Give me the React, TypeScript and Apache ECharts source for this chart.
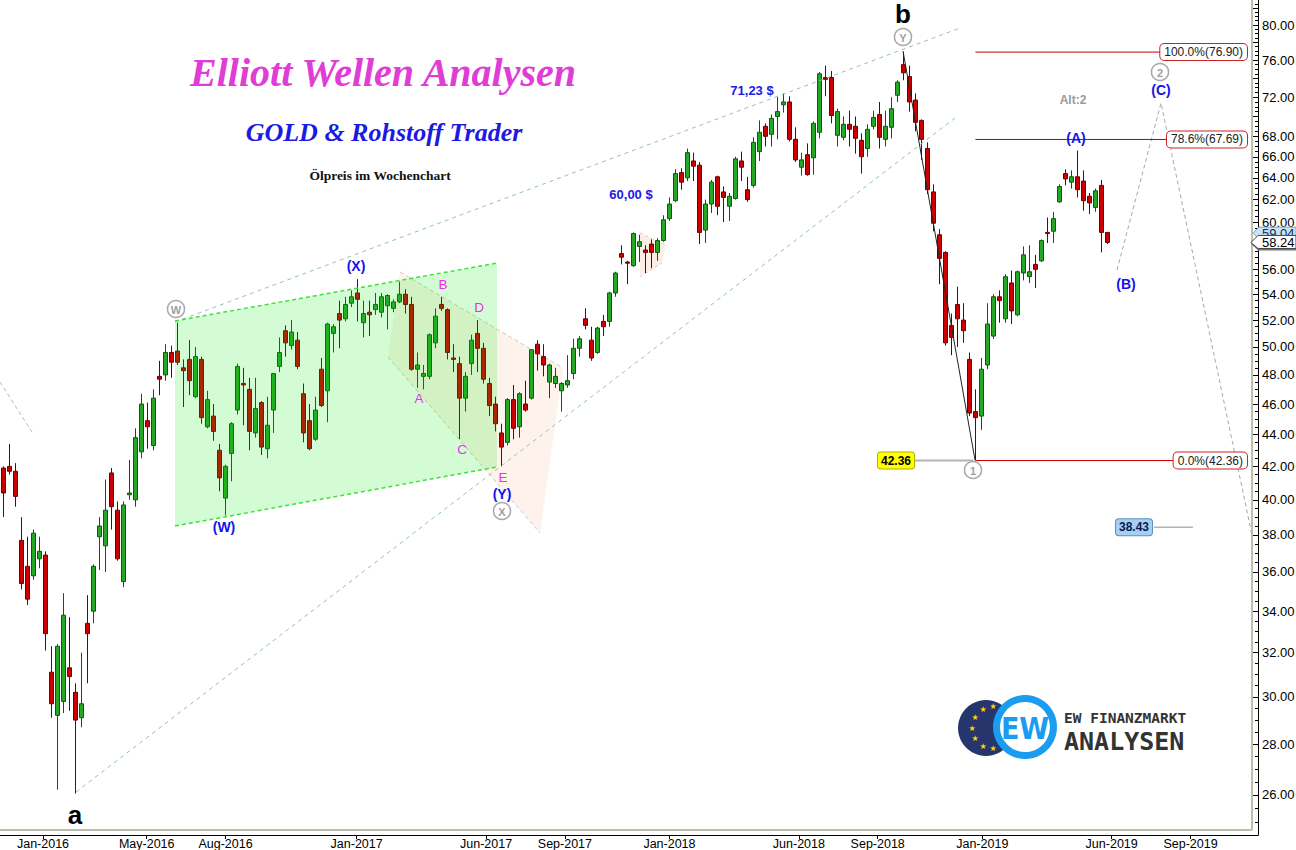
import React, { useEffect, useRef } from "react";
import * as echarts from "echarts";

// Weekly candles, first week starting 2015-11-16. Each entry: [open, close, low, high]
const firstWeek = Date.UTC(2015, 10, 16);
const WEEK_MS = 7 * 86400000;

const candles2015 = [
  [41.9, 40.4, 39.0, 42.0], [42.0, 41.7, 41.5, 43.4], [41.7, 40.2, 39.6, 42.2], [37.7, 35.4, 35.1, 39.0],
  [36.3, 34.6, 34.3, 37.9], [35.8, 38.1, 35.6, 38.3], [36.7, 37.1, 36.2, 37.9],
];
const candles2016 = [
  [36.9, 32.9, 32.1, 37.1], [31.1, 29.7, 29.1, 32.3], [29.2, 32.3, 26.2, 32.4], [29.8, 33.8, 29.3, 34.9],
  [31.3, 30.9, 29.4, 33.7], [30.2, 29.0, 26.05, 30.6], [29.1, 29.7, 28.7, 32.0], [33.4, 32.9, 30.6, 34.8],
  [34.0, 36.3, 33.4, 36.4], [37.9, 38.5, 36.1, 39.0], [37.4, 39.4, 36.0, 41.2], [41.6, 39.6, 38.3, 41.9],
  [39.4, 36.7, 36.6, 39.9], [35.5, 39.7, 35.2, 39.9], [40.3, 40.4, 40.0, 42.4], [40.0, 43.8, 39.6, 44.4],
  [42.9, 46.0, 42.5, 46.7], [44.9, 44.5, 43.1, 46.1], [43.3, 46.4, 43.0, 47.0], [47.9, 47.7, 46.6, 49.0],
  [48.0, 49.6, 47.6, 50.2], [49.6, 48.9, 47.8, 50.1], [49.7, 48.9, 48.7, 51.8], [48.5, 48.3, 45.8, 49.1],
  [49.1, 47.6, 46.6, 50.5], [46.5, 49.3, 46.4, 50.0], [49.1, 45.1, 44.7, 49.3], [44.5, 46.3, 44.4, 46.9],
  [45.2, 44.2, 43.6, 46.0], [43.0, 41.3, 40.5, 43.4], [40.1, 42.0, 39.1, 42.1], [42.8, 44.7, 41.1, 44.8],
  [45.6, 48.6, 45.3, 48.8], [47.4, 47.3, 44.6, 48.5], [47.0, 44.2, 43.0, 47.8], [44.1, 45.7, 43.8, 47.8],
  [46.1, 43.2, 42.7, 46.2], [43.1, 44.6, 42.5, 46.5], [45.6, 48.1, 44.1, 48.1], [48.6, 49.6, 48.2, 50.7],
  [51.2, 50.3, 49.3, 51.6], [50.1, 51.1, 49.8, 52.0], [50.5, 48.6, 48.4, 51.1], [46.7, 44.1, 43.5, 47.4],
  [44.9, 43.1, 43.0, 46.0], [43.7, 45.6, 43.6, 46.5], [48.4, 45.9, 45.8, 49.2], [46.9, 51.7, 44.8, 51.8],
  [51.0, 51.5, 49.6, 51.7], [52.5, 52.0, 49.9, 53.5], [52.1, 53.2, 51.9, 53.8], [53.3, 53.8, 53.0, 54.3],
];
const candles2017 = [
  [54.1, 53.6, 51.9, 55.2], [51.8, 52.5, 50.7, 53.5], [52.6, 52.4, 50.8, 53.5], [52.8, 53.2, 52.4, 54.1],
  [52.6, 53.8, 52.2, 54.1], [53.1, 53.9, 51.3, 54.0], [52.9, 53.4, 52.6, 53.6], [53.4, 54.0, 53.3, 55.0],
  [54.0, 53.2, 52.5, 54.4], [53.2, 48.4, 48.3, 53.8], [48.4, 48.7, 47.1, 49.6], [47.9, 48.1, 47.0, 48.7],
  [47.9, 50.9, 47.7, 51.0], [50.3, 52.3, 49.9, 52.9], [53.2, 52.9, 52.7, 53.8], [52.8, 49.6, 49.1, 52.9],
  [49.2, 49.1, 48.2, 50.2], [48.8, 46.4, 43.7, 49.3], [46.4, 47.9, 45.5, 48.2], [48.8, 50.5, 48.0, 50.9],
  [51.0, 49.9, 48.2, 52.0], [49.9, 47.7, 47.4, 50.3], [47.4, 45.9, 45.2, 47.8], [46.0, 44.7, 44.2, 46.5],
  [44.1, 43.2, 42.0, 44.7], [43.5, 46.3, 43.3, 46.4], [46.3, 44.4, 43.7, 47.3], [44.5, 46.7, 43.8, 46.8],
  [46.0, 45.6, 45.5, 47.6], [46.4, 49.8, 46.3, 49.8], [50.2, 49.5, 48.3, 50.5], [49.3, 48.7, 47.9, 50.2],
  [47.5, 48.7, 46.4, 48.8], [47.4, 47.9, 47.1, 48.5], [46.9, 47.4, 45.5, 47.5], [47.3, 47.6, 47.1, 49.4],
  [48.1, 49.9, 47.7, 50.6], [49.9, 50.6, 49.3, 50.8], [52.1, 51.6, 51.3, 52.9], [50.5, 49.2, 49.0, 51.5],
  [49.6, 51.4, 49.5, 51.5], [51.9, 51.5, 50.8, 52.4], [51.9, 54.1, 51.5, 54.2], [54.1, 55.7, 53.8, 55.8],
  [57.3, 57.0, 56.4, 58.0], [56.6, 56.5, 54.8, 56.7], [56.3, 59.0, 56.2, 59.1], [57.9, 58.3, 56.6, 58.9],
  [57.6, 57.4, 55.7, 58.0], [58.1, 57.4, 56.1, 58.5], [57.4, 58.4, 56.7, 58.6], [58.4, 60.2, 58.3, 60.6],
];
const candles2018 = [
  [60.3, 61.6, 60.1, 62.2], [61.9, 64.4, 61.8, 64.8], [64.5, 63.6, 62.9, 64.9], [64.0, 66.4, 63.7, 66.8],
  [65.6, 65.1, 63.7, 66.4], [65.2, 59.1, 58.1, 65.5], [59.3, 61.6, 58.2, 62.0], [61.6, 63.6, 60.8, 63.8],
  [64.1, 61.4, 60.6, 64.2], [62.7, 62.2, 60.0, 63.2], [61.4, 62.3, 60.1, 62.6], [62.1, 65.8, 62.0, 66.0],
  [65.6, 65.0, 63.7, 66.5], [62.9, 62.0, 61.8, 64.1], [63.3, 67.4, 63.1, 67.9], [66.5, 68.4, 65.6, 69.6],
  [69.0, 68.0, 67.0, 69.3], [68.2, 69.8, 67.0, 70.2], [70.0, 70.5, 67.7, 72.0], [71.2, 71.5, 70.4, 72.4],
  [71.5, 67.7, 67.5, 72.1], [67.7, 65.7, 65.5, 68.9], [65.0, 65.7, 64.2, 66.4], [66.2, 64.3, 64.2, 67.3],
  [65.9, 69.3, 64.3, 69.5], [68.4, 74.5, 67.8, 74.7], [74.1, 73.9, 72.1, 75.4], [74.1, 70.1, 69.3, 74.8],
  [68.1, 70.5, 67.0, 70.8], [67.9, 69.2, 67.6, 70.0], [69.2, 68.7, 67.0, 70.6], [69.0, 67.8, 66.3, 70.0],
  [67.6, 66.0, 64.4, 68.3], [66.8, 68.7, 66.0, 69.2], [69.0, 69.9, 68.7, 70.6], [70.2, 67.9, 66.8, 71.5],
  [67.7, 69.0, 67.0, 70.6], [68.9, 70.8, 67.8, 72.0], [72.2, 73.6, 71.5, 73.8], [75.5, 74.6, 73.8, 76.9],
  [74.2, 71.5, 70.5, 75.4], [71.7, 69.4, 68.5, 72.4], [69.6, 67.7, 65.7, 69.7], [66.8, 62.9, 62.5, 67.4],
  [62.7, 59.9, 59.2, 63.4], [58.9, 56.9, 54.8, 59.4], [57.4, 50.3, 50.1, 57.5], [51.6, 50.7, 49.4, 52.5],
  [53.2, 52.1, 50.0, 54.6], [52.0, 51.2, 50.3, 53.3], [49.1, 45.4, 45.2, 49.6], [45.5, 45.1, 42.36, 47.0],
];
const candles2019 = [
  [45.2, 48.4, 44.3, 49.2], [48.7, 51.7, 48.4, 53.3], [50.8, 53.8, 50.6, 54.0], [53.8, 53.5, 51.8, 54.3],
  [52.1, 55.4, 51.8, 55.6], [54.9, 52.7, 51.7, 55.9], [52.4, 55.8, 52.3, 55.9], [55.7, 57.2, 55.1, 57.9],
  [55.4, 55.8, 54.9, 58.0], [56.4, 56.0, 54.5, 57.2], [56.7, 58.4, 56.6, 58.5], [59.1, 59.0, 58.2, 60.4],
  [59.2, 60.3, 58.2, 60.9], [61.8, 63.2, 61.7, 63.4], [64.4, 63.9, 63.3, 64.8], [63.6, 64.1, 63.0, 64.7],
  [64.1, 62.9, 62.2, 66.6], [63.7, 61.9, 61.0, 64.7], [62.3, 61.7, 60.7, 62.6], [61.3, 62.8, 60.9, 63.0],
  [63.3, 59.1, 57.4, 63.8], [59.1, 58.24, 58.1, 59.1],
];

const yLabelValues = [26, 28, 30, 32, 34, 36, 38, 40, 42, 44, 46, 48, 50, 52, 54, 56, 60, 62, 64, 66, 68, 72, 76, 80];
const xLabelMonths: [number, number][] = [
  [2016, 0], [2016, 4], [2016, 7], [2017, 0], [2017, 5], [2017, 8],
  [2018, 0], [2018, 5], [2018, 8], [2019, 0], [2019, 5], [2019, 8],
];
const monthNames = ["Jan", "Feb", "Mar", "Apr", "May", "Jun", "Jul", "Aug", "Sep", "Oct", "Nov", "Dec"];

const fibLevels = [
  { price: 76.9, label: "100.0%(76.90)", color: "#cc0000" },
  { price: 67.69, label: "78.6%(67.69)", color: "#9a1010" },
  { price: 42.36, label: "0.0%(42.36)", color: "#cc0000" },
];
const fibStartDate = Date.UTC(2018, 11, 24);
const lowLabel = 42.36;
const targetLabel = 38.43;
const lastPrice = 58.24;
const prevPrice = 59.04;

export default function App() {
  const ref = useRef<HTMLDivElement>(null);

  useEffect(() => {
    document.body.style.margin = "0";
    const chart = echarts.init(ref.current!, null, { renderer: "svg" });
    const ln = Math.log;
    const DAY = 86400000;
    const pxPerDay = 0.857;
    const jan2016 = Date.UTC(2016, 0, 1);
    const xMin = jan2016 - (43 / pxPerDay) * DAY;
    const xMax = xMin + (1258 / pxPerDay) * DAY;
    const yTop = ln(80) + 25 / 685;
    const yBottom = ln(80) - 810 / 685;

    const all = [...candles2015, ...candles2016, ...candles2017, ...candles2018, ...candles2019];
    const data = all.map((c, i) => [firstWeek + i * WEEK_MS, ln(c[0]), ln(c[1]), ln(c[2]), ln(c[3])]);

    const xTicks = xLabelMonths.map(([y, m]) => Date.UTC(y, m, 1));
    const majorTicks: number[] = [];
    for (let v = 24; v <= 82; v += 2) majorTicks.push(ln(v));
    const minorTicks: number[] = [];
    for (let v = 24; v <= 83; v += 0.5) minorTicks.push(ln(v));

    const option: any = {
      animation: false,
      backgroundColor: "#ffffff",
      grid: { left: 0, right: 38, top: 0, bottom: 15, containLabel: false, outerBoundsMode: "none" },
      xAxis: {
        type: "value",
        min: xMin,
        max: xMax,
        axisLine: { show: true, lineStyle: { color: "#000", width: 1 } },
        axisTick: { show: true, customValues: xTicks, length: 4, lineStyle: { color: "#000" } },
        axisLabel: {
          show: true,
          customValues: xTicks,
          color: "#000",
          fontSize: 12.5,
          fontFamily: "Liberation Sans, Arial, sans-serif",
          margin: 2,
          formatter: (v: number) => {
            const d = new Date(v);
            return monthNames[d.getUTCMonth()] + "-" + d.getUTCFullYear();
          },
        },
        splitLine: { show: false },
      },
      yAxis: [
        {
          type: "value",
          position: "right",
          min: yBottom,
          max: yTop,
          axisLine: { show: true, lineStyle: { color: "#000", width: 1 } },
          axisTick: { show: true, inside: true, length: 5, customValues: majorTicks, lineStyle: { color: "#000" } },
          axisLabel: {
            show: true,
            customValues: yLabelValues.map((v) => ln(v)),
            color: "#000",
            fontSize: 13,
            fontFamily: "Liberation Sans, Arial, sans-serif",
            margin: 4,
            formatter: (v: number) => Math.round(Math.exp(v)).toFixed(2),
          },
          splitLine: { show: false },
        },
        {
          type: "value",
          position: "right",
          min: yBottom,
          max: yTop,
          axisLine: { show: false },
          axisTick: { show: true, inside: true, length: 3, customValues: minorTicks, lineStyle: { color: "#000" } },
          axisLabel: { show: false },
          splitLine: { show: false },
        },
      ],
      series: [
        {
          type: "candlestick",
          data,
          encode: { x: 0, y: [1, 2, 3, 4] },
          barWidth: 4.6,
          z: 5,
          itemStyle: {
            color: "#25a825",
            color0: "#cc0000",
            borderColor: "#0b5a0b",
            borderColor0: "#6e0000",
            borderWidth: 1,
          },
        },
      ],
    };
    chart.setOption(option);

    const py = (p: number) => chart.convertToPixel({ yAxisIndex: 0 }, ln(p)) as number;
    const px = (t: number) => chart.convertToPixel({ xAxisIndex: 0 }, t) as number;

    const g: any[] = [];
    const line = (x1: number, y1: number, x2: number, y2: number, stroke: string, w = 1, dash?: number[], z = 50) =>
      g.push({ type: "line", z, silent: true, shape: { x1, y1, x2, y2 }, style: { stroke, lineWidth: w, lineDash: dash } });
    const text = (x: number, y: number, t: string, font: string, fill: string, extra: any = {}, z = 120) =>
      g.push({
        type: "text",
        z,
        silent: true,
        x,
        y,
        style: { text: t, font, fill, align: "center", verticalAlign: "middle", ...extra },
      });
    const circled = (x: number, y: number, t: string) => {
      g.push({ type: "circle", z: 110, silent: true, shape: { cx: x, cy: y, r: 8.5 }, style: { fill: "#fff", stroke: "#a8a8a8", lineWidth: 1.5 } });
      text(x, y + 0.5, t, "bold 11px Liberation Sans, Arial", "#a0a0a0");
    };

    // frame
    line(1252, 0, 1252, 830, "#bdbdb0", 2, undefined, 40);
    line(0, 830, 1252, 830, "#bdbdb0", 2, undefined, 40);

    // peach triangle areas (below candles)
    g.push({ type: "polygon", z: 1, silent: true, shape: { points: [[400, 272], [563, 368], [540, 533], [388, 357]] }, style: { fill: "rgba(248,200,170,0.22)" } });
    line(400, 272, 563, 368, "#c9c9c9", 1, [4, 3], 3);
    line(388, 357, 540, 533, "#c9c9c9", 1, [4, 3], 3);
    g.push({ type: "polygon", z: 1, silent: true, shape: { points: [[640, 233], [666, 245], [662, 263], [640, 277]] }, style: { fill: "rgba(248,200,170,0.3)" } });
    line(640, 233, 666, 245, "#d0d0d0", 1, [3, 3], 3);
    line(640, 277, 662, 263, "#d0d0d0", 1, [3, 3], 3);

    // green channel (over candles)
    g.push({ type: "polygon", z: 100, silent: true, shape: { points: [[175, 321], [497, 263], [497, 467], [175, 526]] }, style: { fill: "rgba(0,235,0,0.17)" } });
    line(175, 321, 497, 263, "#3ee03e", 1.5, [4, 3], 101);
    line(175, 526, 497, 467, "#3ee03e", 1.5, [4, 3], 101);

    // trend channel lines
    line(175, 322, 960, 28, "#92c4ac", 1, [4, 4], 50);
    line(76, 792, 955, 118, "#92c4ac", 1, [4, 4], 50);
    line(0, 382, 32, 432, "#b8b8b8", 1, [4, 3], 50);
    line(903, 51, 975, 460, "#222", 1, undefined, 60);
    g.push({ type: "polyline", z: 50, silent: true, shape: { points: [[1117, 270], [1161, 103], [1252, 535]] }, style: { stroke: "#a8a8a8", lineWidth: 1, lineDash: [4, 3], fill: null } });

    // fib levels
    const xFib = px(fibStartDate);
    fibLevels.forEach((f) => {
      const y = py(f.price);
      line(xFib, y, 1240, y, f.color, 1, undefined, 60);
      text(1247, y, f.label, "12px Liberation Sans, Arial", "#222", {
        align: "right",
        backgroundColor: "#fff",
        borderColor: "#cc2222",
        borderWidth: 1,
        borderRadius: 4,
        padding: [2, 4, 2, 4],
      }, 130);
    });

    // 42.36 and 38.43 labels
    const yLow = py(lowLabel);
    line(915, yLow, xFib - 2, yLow, "#b4b4b4", 2, undefined, 55);
    text(896, yLow, lowLabel.toFixed(2), "bold 12px Liberation Sans, Arial", "#000", {
      backgroundColor: "#ffff00", borderColor: "#b0b000", borderWidth: 1, borderRadius: 3, padding: [2, 3, 2, 3],
    });
    const yT = py(targetLabel);
    line(1154, yT, 1193, yT, "#b4b4b4", 1.5, undefined, 55);
    text(1134, yT, targetLabel.toFixed(2), "bold 12px Liberation Sans, Arial", "#0a1a50", {
      backgroundColor: "#a6cff2", borderColor: "#5b8fc0", borderWidth: 1, borderRadius: 3, padding: [2, 3, 2, 3],
    });

    // price tags
    const yPrev = py(prevPrice);
    g.push({ type: "polygon", z: 140, silent: true, shape: { points: [[1253, yPrev], [1259, yPrev - 6], [1296, yPrev - 6], [1296, yPrev + 6], [1259, yPrev + 6]] }, style: { fill: "#c6e4f6", stroke: "#7fa6c0", lineWidth: 1 } });
    text(1262, yPrev, prevPrice.toFixed(2), "13px Liberation Sans, Arial", "#1a2a5a", { align: "left" }, 141);
    const yLast = py(lastPrice);
    g.push({ type: "polygon", z: 142, silent: true, shape: { points: [[1251, yLast + 1], [1258, yLast - 6], [1296, yLast - 6], [1296, yLast + 8], [1258, yLast + 8]] }, style: { fill: "#777" } });
    g.push({ type: "polygon", z: 143, silent: true, shape: { points: [[1251, yLast], [1258, yLast - 7], [1296, yLast - 7], [1296, yLast + 6], [1258, yLast + 6]] }, style: { fill: "#fff", stroke: "#444", lineWidth: 1 } });
    text(1262, yLast, lastPrice.toFixed(2), "13px Liberation Sans, Arial", "#000", { align: "left" }, 144);

    // titles
    text(383, 72, "Elliott Wellen Analysen", 'italic bold 40px "Liberation Serif", serif', "#e03cd6");
    text(384, 132, "GOLD & Rohstoff Trader", 'italic bold 26px "Liberation Serif", serif', "#1a1ae0");
    text(380, 175, "Ölpreis im Wochenchart", 'bold 13.5px "Liberation Serif", serif', "#111");

    // wave labels
    text(75, 815, "a", "bold 26px Liberation Sans, Arial", "#000");
    text(903, 14, "b", "bold 26px Liberation Sans, Arial", "#000");
    const blue = "#1212ec";
    const bf = "bold 14px Liberation Sans, Arial";
    text(224, 527, "(W)", bf, blue);
    text(356, 266, "(X)", bf, blue);
    text(502, 494, "(Y)", bf, blue);
    text(1076, 138, "(A)", bf, blue);
    text(1126, 284, "(B)", bf, blue);
    text(1161, 90, "(C)", bf, blue);
    const mag = "#ee2cee";
    const mf = "13.5px Liberation Sans, Arial";
    text(419, 398, "A", mf, mag);
    text(443, 284, "B", mf, mag);
    text(462, 449, "C", mf, mag);
    text(479, 307, "D", mf, mag);
    text(503, 477, "E", mf, mag);
    circled(176, 309, "W");
    circled(502, 511, "X");
    circled(903, 37, "Y");
    circled(973, 470, "1");
    circled(1160, 72, "2");
    text(1073, 100, "Alt:2", "bold 12px Liberation Sans, Arial", "#9a9a9a");
    text(752, 90, "71,23 $", "bold 13px Liberation Sans, Arial", "#1a1ae6");
    text(631, 194, "60,00 $", "bold 13px Liberation Sans, Arial", "#1a1ae6");

    // logo
    g.push({ type: "circle", z: 110, silent: true, shape: { cx: 986, cy: 728, r: 28 }, style: { fill: "#26366c" } });
    const stars = [[993, 706], [983, 709], [975, 717], [972, 728], [975, 738], [983, 746], [993, 748]];
    stars.forEach(([sx, sy]) => text(sx, sy, "★", "8px DejaVu Sans", "#ffd200", {}, 111));
    g.push({ type: "circle", z: 112, silent: true, shape: { cx: 1025, cy: 727, r: 28.5 }, style: { fill: "#fff", stroke: "#1a9cf0", lineWidth: 7 } });
    text(1025, 728, "EW", 'bold 30px "DejaVu Sans Condensed", "Liberation Sans", Arial', "#1a9cf0", {}, 113);
    text(1064, 718, "EW FINANZMARKT", 'bold 14.5px "DejaVu Sans Mono", monospace', "#333", { align: "left" });
    text(1064, 741, "ANALYSEN", 'bold 25px "DejaVu Sans Mono", monospace', "#333", { align: "left" });

    chart.setOption({ graphic: { elements: g } });

    return () => chart.dispose();
  }, []);

  return <div ref={ref} style={{ width: 1296, height: 850 }} />;
}
